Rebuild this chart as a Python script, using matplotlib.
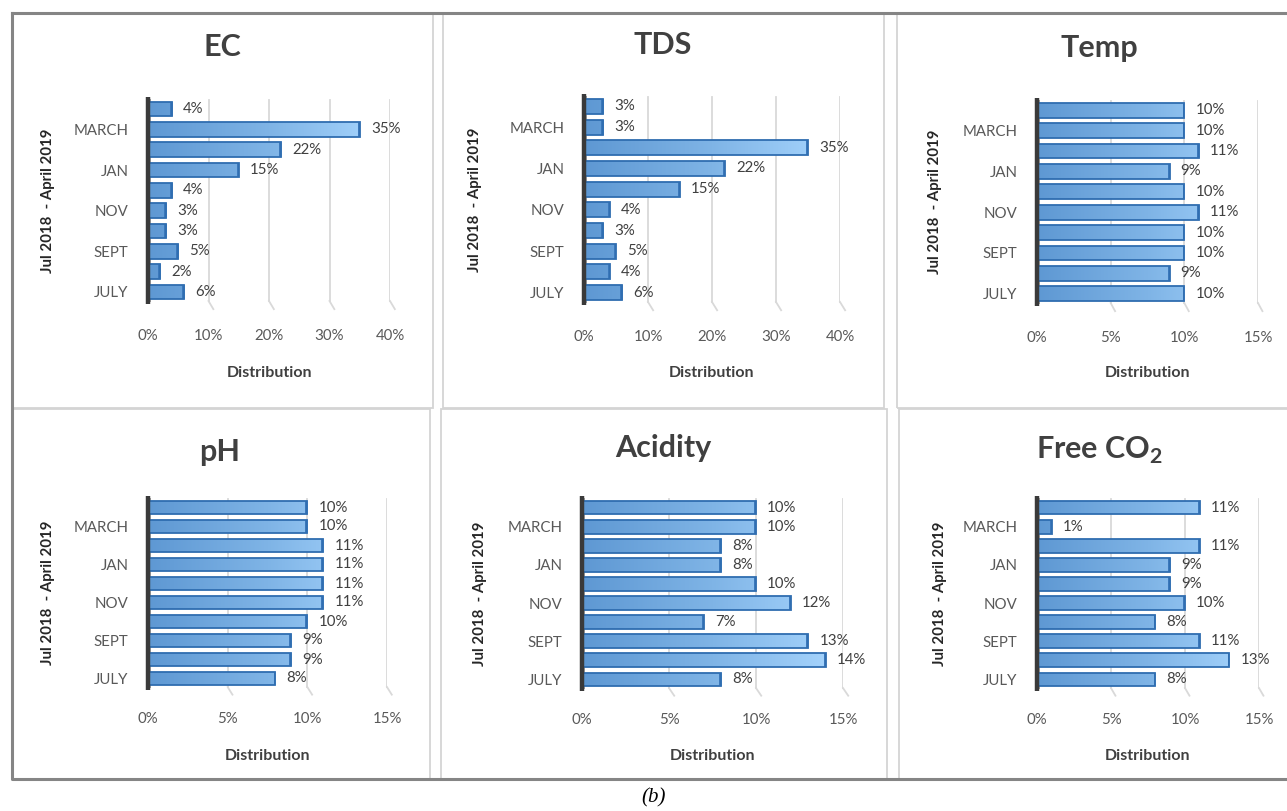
import numpy as np
import matplotlib
matplotlib.use("Agg")
import matplotlib.pyplot as plt
from matplotlib.patches import Rectangle
from matplotlib.lines import Line2D
from matplotlib.colors import LinearSegmentedColormap

plt.rcParams['font.family'] = ['Lato', 'DejaVu Sans']
plt.rcParams['mathtext.fontset'] = 'custom'
plt.rcParams['mathtext.rm'] = 'Lato'
plt.rcParams['mathtext.bf'] = 'Lato:bold'

# ---------------- data (bottom -> top: JULY ... APRIL) ----------------
months = ["JULY", "AUG", "SEPT", "OCT", "NOV", "DEC", "JAN", "FEB", "MARCH", "APRIL"]
shown_months = ["JULY", "SEPT", "NOV", "JAN", "MARCH"]
ec = [6, 2, 5, 3, 3, 4, 15, 22, 35, 4]
tds = [6, 4, 5, 3, 4, 15, 22, 35, 3, 3]
temp = [10, 9, 10, 10, 11, 10, 9, 11, 10, 10]
ph = [8, 9, 9, 10, 11, 11, 11, 11, 10, 10]
acidity = [8, 14, 13, 7, 12, 10, 8, 8, 10, 10]
free_co2 = [8, 13, 11, 8, 10, 9, 9, 11, 1, 11]
titles = ["EC", "TDS", "Temp", "pH", "Acidity", r"Free CO$_{\mathbf{2}}$"]
y_title = "Jul 2018  - April 2019"
x_title = "Distribution"
caption = "(b)"

W, H, DPI = 1287, 811, 100
fig = plt.figure(figsize=(W / DPI, H / DPI), dpi=DPI)


def fx(px):
    return px / W


def fy(py):
    return 1 - py / H


cmap = LinearSegmentedColormap.from_list("bar", ["#5e98d3", "#7fb4e6", "#a9d7ff"])

panels = [
    # values, title, (left, right, top, bottom) axes px, xmax, step, title xy, ylabel x, pad
    (ec, titles[0], (148, 390, 99, 302), 40, 10, (222, 47), 48, 19.5),
    (tds, titles[1], (584, 840, 96, 303), 40, 10, (663, 45), 475, 19.5),
    (temp, titles[2], (1037, 1258, 100, 304), 15, 5, (1099, 48), 935, 19.5),
    (ph, titles[3], (148, 387, 498, 688), 15, 5, (220, 452), 48, 17.5),
    (acidity, titles[4], (582, 843, 498, 689), 15, 5, (663, 448), 480, 17.5),
    (free_co2, titles[5], (1037, 1259, 498, 689), 15, 5, (1100, 450), 940, 17.5),
]

txt_dark = "#404040"
txt_grey = "#595959"

for vals, title, (l, r, t, b), xmax, step, (tx, ty), ylx, pad in panels:
    ax = fig.add_axes([fx(l), fy(b), fx(r) - fx(l), fy(t) - fy(b)])
    ypos = np.arange(len(months))
    h = 0.72
    # gridlines with small 3D foot
    ticks = np.arange(0, xmax + 0.001, step)
    for tk in ticks[1:]:
        ax.plot([tk, tk], [9.45, -0.45], color="#d9d9d9", lw=1.3, zorder=1)
        ax.plot([tk, tk + xmax * 0.02], [-0.45, -0.85], color="#d9d9d9", lw=1.3,
                zorder=1, clip_on=False)
    # grey floor shading next to the wall
    for yy in ypos:
        ax.add_patch(Rectangle((0, yy - 0.5), xmax * 0.012, 1.0, facecolor="#a6a6a6",
                               edgecolor="none", zorder=2))
    bars = ax.barh(ypos, vals, height=h, color="#6fa8dc", edgecolor="none", zorder=3)
    grad = np.linspace(0, 1, 256).reshape(1, -1)
    for bar in bars:
        im = ax.imshow(grad, extent=[0, xmax, bar.get_y(), bar.get_y() + h],
                       aspect="auto", cmap=cmap, zorder=3.5, origin="lower")
        im.set_clip_path(bar)
        # darker end cap (3D depth)
        ax.add_patch(Rectangle((bar.get_width() - xmax * 0.008, bar.get_y()),
                               xmax * 0.008, h, facecolor="#3b78bb",
                               edgecolor="none", zorder=3.8))
    ax.barh(ypos, vals, height=h, facecolor="none", edgecolor="#2f6db0", lw=1.3, zorder=4)
    # 3D wall
    ax.plot([0, 0], [-0.6, 9.6], color="#3a3a3a", lw=3.2, zorder=5, clip_on=False,
            solid_capstyle="butt")
    for yy, v in zip(ypos, vals):
        ax.annotate(f"{v}%", (v, yy), xytext=(8, 0), textcoords="offset points",
                    ha="left", va="center", fontsize=10.8, color=txt_dark, zorder=6)
    ax.set_xlim(0, xmax)
    ax.set_ylim(-0.5, 9.5)
    ax.set_xticks(ticks)
    ax.set_xticklabels([f"{int(v)}%" for v in ticks], fontsize=10.8, color=txt_grey)
    ax.set_yticks([months.index(m) for m in shown_months])
    ax.set_yticklabels(shown_months, fontsize=10.8, color=txt_grey)
    ax.tick_params(axis="x", length=0, pad=pad)
    ax.tick_params(axis="y", length=0, pad=14)
    for s in ax.spines.values():
        s.set_visible(False)
    ax.set_facecolor("none")
    fig.text(fx(tx), fy(ty), title, ha="center", va="center", fontsize=22,
             fontweight="bold", color=txt_dark)
    fig.text(fx((l + r) / 2), fy(373 if t < 400 else 756), x_title, ha="center",
             va="center", fontsize=11.5, fontweight="bold", color=txt_dark)
    fig.text(fx(ylx), fy((t + b) / 2), y_title, ha="center", va="center",
             rotation=90, fontsize=10.8, fontweight="bold", color="#262626")

# panel borders
borders = [
    (12, 13, 433, 408), (443, 13, 884, 408), (897, 13, 1290, 408),
    (12, 409, 430, 779), (441, 409, 887, 779), (899, 409, 1290, 779),
]
for x0, y0, x1, y1 in borders:
    fig.add_artist(Rectangle((fx(x0), fy(y1)), fx(x1) - fx(x0), fy(y0) - fy(y1),
                             transform=fig.transFigure, facecolor="none",
                             edgecolor="#d4d4d4", lw=1.3))
# outer border
fig.add_artist(Line2D([fx(12), fx(12), fx(1290)], [fy(13), fy(779), fy(779)],
                      transform=fig.transFigure, color="#858585", lw=2.2))
fig.add_artist(Line2D([fx(12), fx(1290)], [fy(13), fy(13)],
                      transform=fig.transFigure, color="#858585", lw=2.2))

fig.text(fx(654), fy(798), caption, ha="center", va="center", fontsize=15,
         style="italic", family="Liberation Serif", color="black")

fig.savefig("out.png", dpi=DPI)
